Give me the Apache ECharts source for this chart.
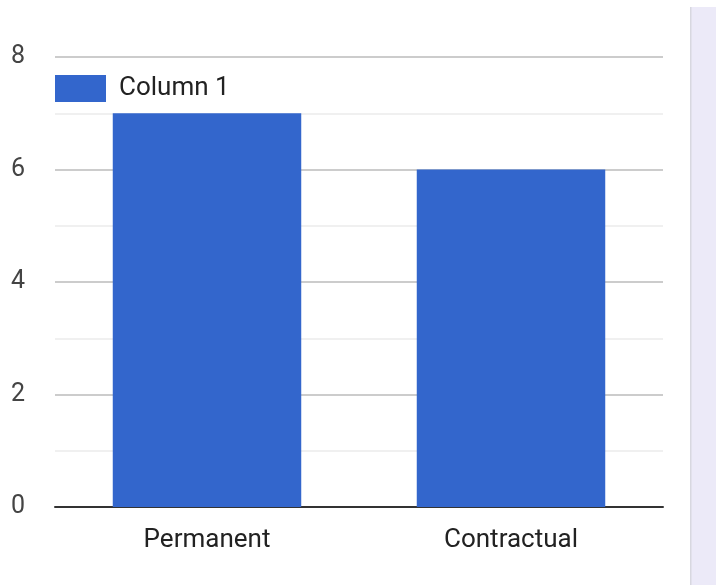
<!DOCTYPE html>
<html><head><meta charset="utf-8">
<script src="https://cdn.jsdelivr.net/npm/echarts@6/dist/echarts.min.js"></script>
<style>html,body{margin:0;padding:0;background:#fff}#c{width:716px;height:585px}</style>
</head><body><div id="c"></div>
<script>
const categories = ['Permanent', 'Contractual'];
const seriesName = 'Column 1';
const values = [7, 6];
const yTicks = [0, 2, 4, 6, 8];

const chart = echarts.init(document.getElementById('c'), null, {renderer: 'canvas'});
chart.setOption({
  animation: false,
  backgroundColor: '#fff',
  textStyle: {fontFamily: 'Roboto'},
  grid: {left: 55, right: 53, top: 57, bottom: 78},
  legend: {
    show: true, left: 50, top: 70, itemWidth: 51, itemHeight: 27, icon: 'rect',
    textStyle: {fontSize: 26, color: '#222', fontFamily: 'Roboto', padding: [0, 0, 0, 8]},
    data: [seriesName]
  },
  xAxis: {
    type: 'category', data: categories,
    axisLine: {lineStyle: {color: '#333', width: 2}},
    axisTick: {show: false},
    axisLabel: {fontSize: 26, color: '#222', margin: 20, fontFamily: 'Roboto'}
  },
  yAxis: {
    type: 'value', min: yTicks[0], max: yTicks[yTicks.length - 1], interval: 2,
    axisLine: {show: false}, axisTick: {show: false},
    axisLabel: {fontSize: 25, color: '#444', margin: 30, fontFamily: 'Roboto'},
    splitLine: {lineStyle: {color: '#cccccc', width: 2}},
    minorTick: {show: false, splitNumber: 2},
    minorSplitLine: {show: true, lineStyle: {color: '#ebebeb', width: 1.5}}
  },
  series: [{
    name: seriesName, type: 'bar', data: values, barWidth: '62%',
    itemStyle: {color: '#3366CC'}
  }],
  graphic: [
    {type: 'rect', left: 690, top: 7, shape: {width: 26, height: 578}, style: {fill: '#ECEAF8'}, z: 10},
    {type: 'rect', left: 690, top: 7, shape: {width: 1.5, height: 578}, style: {fill: '#D8D8E0'}, z: 11}
  ]
});
</script></body></html>
